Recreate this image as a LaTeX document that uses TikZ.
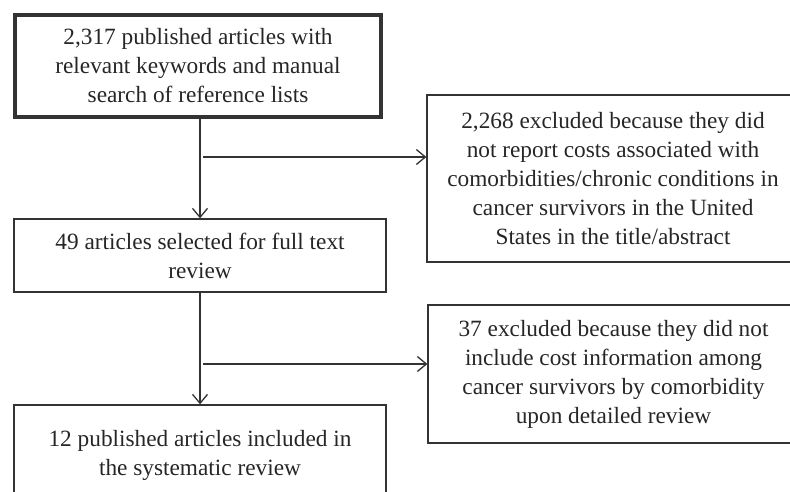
\documentclass[tikz,border=0pt]{standalone}
\usepackage{fontspec}
\setmainfont{Liberation Serif}
\usetikzlibrary{arrows.meta}

\begin{document}
\begin{tikzpicture}[
  box/.style={draw=black!80, line width=1.3pt, align=center, inner sep=0pt,
    text=black!85, font=\fontsize{23.3}{29}\selectfont},
  flow/.style={draw=black!80, line width=1.3pt,
    -{Straight Barb[length=9pt,width=15pt,line width=1.3pt]}}
]
\useasboundingbox (0pt,0pt) rectangle (790pt,-492pt);

\newcommand\XL{200}

  %% main column
  \node[box, line width=4pt, minimum width=366pt, minimum height=102pt]
    (search) at (198pt,-66pt)
    {2,317 published articles with\\relevant keywords and manual\\search of reference lists};
  \node[box, minimum width=372pt, minimum height=73pt]
    (fulltext) at (\XL pt,-255.5pt)
    {49 articles selected for full text\\review};
  \node[box, minimum width=372pt, minimum height=100pt]
    (included) at (\XL pt,-455pt)
    {12 published articles included in\\the systematic review};

  %% excluded
  \node[box, minimum width=372pt, minimum height=167pt]
    (excl1) at (613pt,-178.5pt)
    {2,268 excluded because they did\\not report costs associated with\\comorbidities/chronic conditions in\\cancer survivors in the United\\States in the title/abstract};
  \node[box, minimum width=371pt, minimum height=138pt]
    (excl2) at (613.5pt,-374pt)
    {37 excluded because they did not\\include cost information among\\cancer survivors by comorbidity\\upon detailed review};

  %% branch points
  \coordinate (b1) at (203pt,-157pt);
  \coordinate (b2) at (203pt,-364pt);

  %% arrows
  \draw[flow] (search.south -| fulltext.north) -- (fulltext.north);
  \draw[flow] (fulltext.south) -- (included.north);
  \draw[flow] (b1) -- (b1 -| excl1.west);
  \draw[flow] (b2) -- (b2 -| excl2.west);

\end{tikzpicture}
\end{document}
